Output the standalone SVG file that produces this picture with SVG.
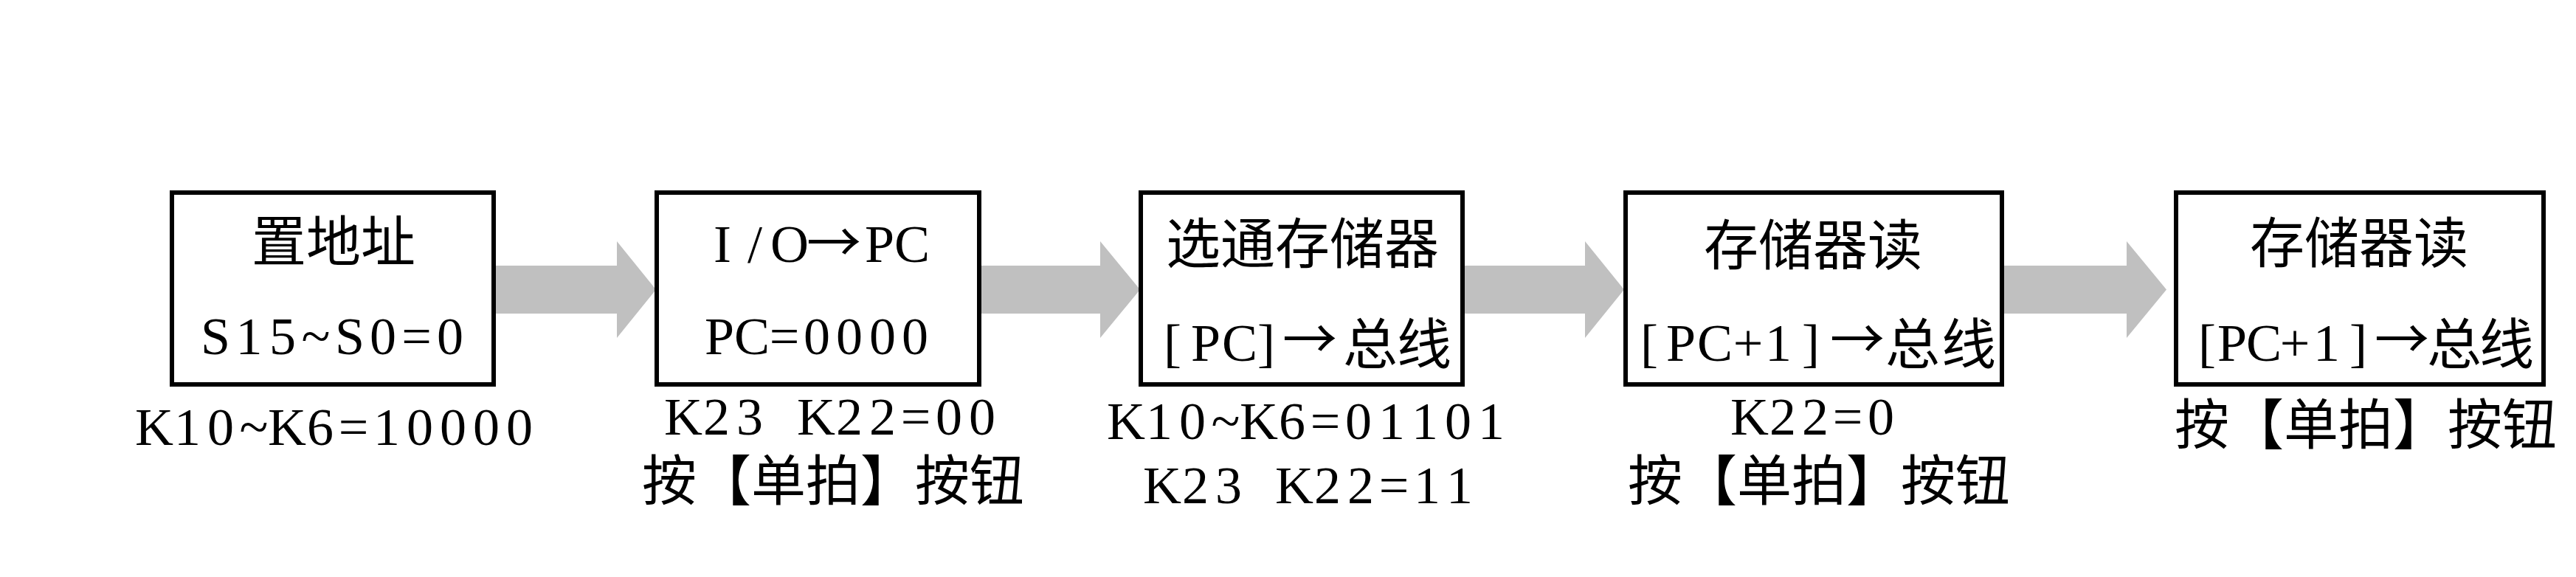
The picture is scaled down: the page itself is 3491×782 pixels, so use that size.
<svg xmlns="http://www.w3.org/2000/svg" width="3491" height="782" viewBox="0 0 3491 782">
<style>
.box{fill:#fff;stroke:#000;stroke-width:6}
.conn{fill:#c0c0c0;stroke:none}
.cjk{font-family:"Noto Sans CJK SC","Liberation Sans",sans-serif;font-size:74px;fill:#000}
.ser{font-family:"Liberation Serif","Noto Sans CJK SC",serif;font-size:72px;fill:#000}
text{text-anchor:middle}
</style>
<rect width="3491" height="782" fill="#fff"/>
<g id="connectors">
<path class="conn" d="M672,360 H836 V327 L889,392.5 L836,458 V425 H672 Z"/>
<path class="conn" d="M1330,360 H1491 V327 L1545,392.5 L1491,458 V425 H1330 Z"/>
<path class="conn" d="M1985,360 H2148 V327 L2201,392.5 L2148,458 V425 H1985 Z"/>
<path class="conn" d="M2716,360 H2882 V327 L2936,392.5 L2882,458 V425 H2716 Z"/>
</g>
<g id="node1">
<rect class="box" x="233" y="261" width="436" height="260"/>
<text class="cjk" x="452" y="354">置地址</text>
<text class="ser" x="292 337.5 383 428 474 519 564.5 610" y="480">S15~S0=0</text>
<text class="ser" x="209 254 299 344 389 434 479 524 569 614 659 704" y="603">K10~K6=10000</text>
</g>
<g id="node2">
<rect class="box" x="890" y="261" width="437" height="260"/>
<text y="355"><tspan class="ser" x="979 1023 1070">I/O</tspan><tspan class="cjk" x="1130">→</tspan><tspan class="ser" x="1192 1236">PC</tspan></text>
<text class="ser" x="975 1019 1063 1107 1151 1196 1240" y="480">PC=0000</text>
<text class="ser" x="926 971 1016 1061 1106 1151 1196 1241 1286 1331" y="589">K23 K22=00</text>
<text class="cjk" x="1129" y="678">按【单拍】按钮</text>
</g>
<g id="node3">
<rect class="box" x="1546" y="261" width="436" height="260"/>
<text class="cjk" x="1765" y="357">选通存储器</text>
<text y="489"><tspan class="ser" x="1589 1634 1680 1716">[PC]</tspan><tspan class="cjk" x="1775" y="486">→</tspan><tspan class="cjk" x="1857 1930" y="493">总线</tspan></text>
<text class="ser" x="1526 1571 1616 1661 1706 1751 1796 1841 1886 1931 1976 2021" y="595">K10~K6=01101</text>
<text class="ser" x="1575 1620 1665 1710 1754 1799 1844 1889 1934 1978" y="682">K23 K22=11</text>
</g>
<g id="node4">
<rect class="box" x="2203" y="261" width="510" height="260"/>
<text class="cjk" x="2457" y="359">存储器读</text>
<text y="489"><tspan class="ser" x="2235 2278 2324 2369 2410 2454">[PC+1]</tspan><tspan class="cjk" x="2517" y="486">→</tspan><tspan class="cjk" x="2592 2668" y="493">总线</tspan></text>
<text class="ser" x="2371 2416 2460 2504 2549" y="589">K22=0</text>
<text class="cjk" x="2465" y="678">按【单拍】按钮</text>
</g>
<g id="node5">
<rect class="box" x="2949" y="261" width="498" height="260"/>
<text class="cjk" x="3197" y="356">存储器读</text>
<text y="489"><tspan class="ser" x="2991 3025 3068 3110 3153 3196">[PC+1]</tspan><tspan class="cjk" x="3255" y="486">→</tspan><tspan class="cjk" x="3326 3397" y="493">总线</tspan></text>
<text class="cjk" x="3206" y="602">按【单拍】按钮</text>
</g>
</svg>
